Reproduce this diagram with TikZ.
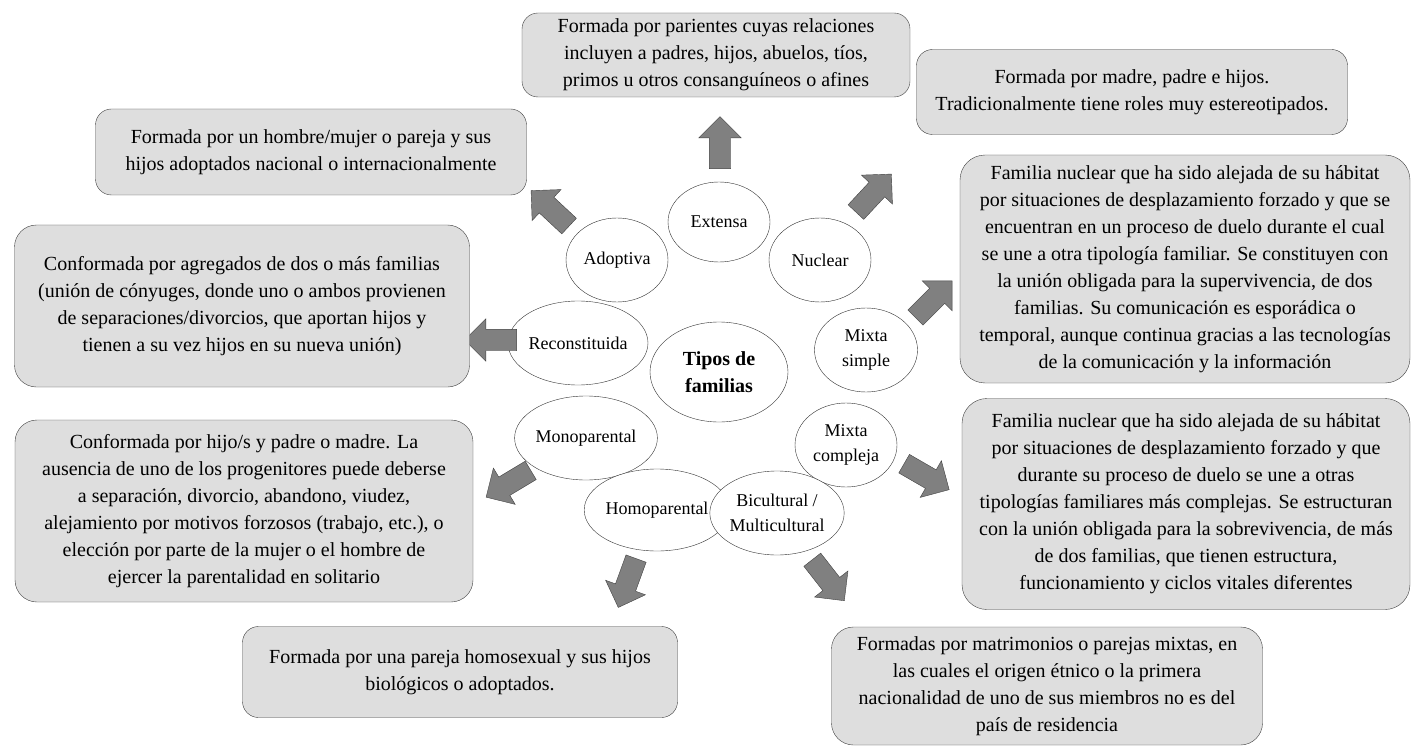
\documentclass[tikz,border=0pt]{standalone}
\usepackage{fontspec}
\setmainfont{Liberation Serif}
\usetikzlibrary{shapes.geometric,shapes.arrows}

\begin{document}
\begin{tikzpicture}[x=1pt,y=-1pt,
  tipo/.style={ellipse,draw=black!80,fill=white,inner sep=0,align=center,font=\fontsize{18}{25}\selectfont},
  caja/.style={draw=black!75,fill=black!13,rounded corners=16pt,inner sep=0,align=center,font=\fontsize{20}{27}\selectfont},
  flecha/.style={single arrow,draw=black!75,fill=black!50,inner xsep=0,inner ysep=10.5pt,minimum height=52pt,single arrow head extend=10.5pt,single arrow tip angle=90}]
\useasboundingbox (0,0) rectangle (1411,746);

% tipos de familia
\node (tipos) [tipo,minimum width=138pt,minimum height=100pt,font=\fontsize{20}{27}\selectfont\bfseries] at (719,372) {Tipos de\\familias};
\node (ext) [tipo,minimum width=102pt,minimum height=80pt] at (719,222) {Extensa};
\node (nuc) [tipo,minimum width=102pt,minimum height=84pt] at (820,260) {Nuclear};
\node (ado) [tipo,minimum width=102pt,minimum height=84pt] at (617,260) {Adoptiva};
\node (rec) [tipo,minimum width=114pt,minimum height=84pt] at (578,343) {Reconstituida};
\node (ms) [tipo,minimum width=103pt,minimum height=84pt] at (866,350) {Mixta\\simple};
\node (mono) [tipo,minimum width=108pt,minimum height=84pt] at (586,438) {Monoparental};
\node (mc) [tipo,minimum width=102pt,minimum height=84pt] at (846,445) {Mixta\\compleja};
\node (homo) [tipo,minimum width=110pt,minimum height=82pt] at (657,510) {Homoparental};
\node (bic) [tipo,minimum width=112pt,minimum height=84pt] at (777,513) {Bicultural /\\Multicultural};

% flechas
\node (aext) [flecha,rotate=90] at (720,148) {};
\node (anuc) [flecha,rotate=47] at (870,197) {};
\node (aado) [flecha,rotate=137] at (554,212) {};
\node (arec) [flecha,rotate=180] at (496,340) {};
\node (ams) [flecha,rotate=45] at (930,303) {};
\node (amono) [flecha,rotate=211] at (513,481) {};
\node (amc) [flecha,rotate=-30] at (922,474) {};
\node (ahomo) [flecha,rotate=-110] at (629,578) {};
\node (abic) [flecha,rotate=-52] at (825,576) {};

% descripciones
\node (bext) [caja,minimum width=388pt,minimum height=84pt] at (716,55)
  {Formada por parientes cuyas relaciones\\incluyen a padres, hijos, abuelos, tíos,\\primos u otros consanguíneos o afines};
\node (bnuc) [caja,minimum width=431pt,minimum height=85pt] at (1132,92)
  {Formada por madre, padre e hijos.\\Tradicionalmente tiene roles muy estereotipados.};
\node (bado) [caja,minimum width=431pt,minimum height=86pt] at (311,152)
  {Formada por un hombre/mujer o pareja y sus\\hijos adoptados nacional o internacionalmente};
\node (brec) [caja,rounded corners=22pt,minimum width=455pt,minimum height=162pt] at (242,306)
  {Conformada por agregados de dos o más familias\\(unión de cónyuges, donde uno o ambos provienen\\de separaciones/divorcios, que aportan hijos y\\tienen a su vez hijos en su nueva unión)};
\node (bms) [caja,rounded corners=25pt,minimum width=450pt,minimum height=228pt] at (1185,269)
  {Familia nuclear que ha sido alejada de su hábitat\\por situaciones de desplazamiento forzado y que se\\encuentran en un proceso de duelo durante el cual\\se une a otra tipología familiar. Se constituyen con\\la unión obligada para la supervivencia, de dos\\familias. Su comunicación es esporádica o\\temporal, aunque continua gracias a las tecnologías\\de la comunicación y la información};
\node (bmono) [caja,rounded corners=22pt,minimum width=458pt,minimum height=182pt] at (244,511)
  {Conformada por hijo/s y padre o madre. La\\ausencia de uno de los progenitores puede deberse\\a separación, divorcio, abandono, viudez,\\alejamiento por motivos forzosos (trabajo, etc.), o\\elección por parte de la mujer o el hombre de\\ejercer la parentalidad en solitario};
\node (bmc) [caja,rounded corners=25pt,minimum width=448pt,minimum height=211pt] at (1186,504)
  {Familia nuclear que ha sido alejada de su hábitat\\por situaciones de desplazamiento forzado y que\\durante su proceso de duelo se une a otras\\tipologías familiares más complejas. Se estructuran\\con la unión obligada para la sobrevivencia, de más\\de dos familias, que tienen estructura,\\funcionamiento y ciclos vitales diferentes};
\node (bhomo) [caja,minimum width=435pt,minimum height=91pt] at (460,672)
  {Formada por una pareja homosexual y sus hijos\\biológicos o adoptados.};
\node (bbic) [caja,rounded corners=22pt,minimum width=431pt,minimum height=118pt] at (1047,686)
  {Formadas por matrimonios o parejas mixtas, en\\las cuales el origen étnico o la primera\\nacionalidad de uno de sus miembros no es del\\país de residencia};
\end{tikzpicture}
\end{document}
